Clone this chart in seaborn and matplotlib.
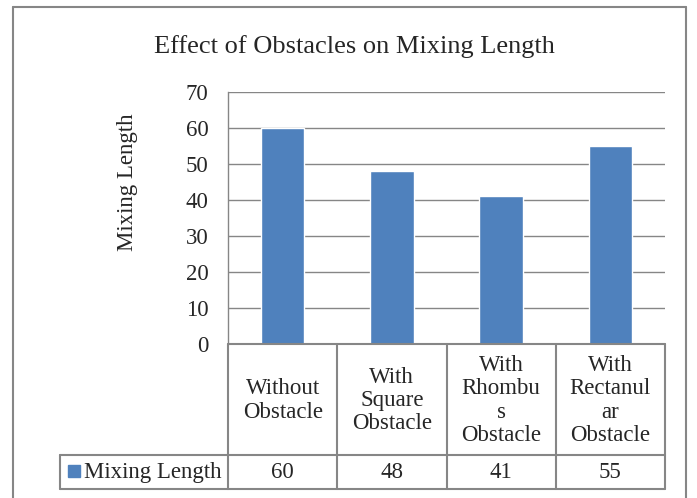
import numpy as np
import pandas as pd
import matplotlib
matplotlib.use("Agg")
import matplotlib.pyplot as plt
import matplotlib.transforms as mtransforms
from matplotlib.lines import Line2D
from matplotlib.patches import Rectangle
import seaborn as sns

# data
categories = ["Without\nObstacle", "With\nSquare\nObstacle", "With\nRhombu\ns\nObstacle", "With\nRectanul\nar\nObstacle"]
mixing_length = [60, 48, 41, 55]
series_name = "Mixing Length"
y_ticks = [0, 10, 20, 30, 40, 50, 60, 70]

df = pd.DataFrame({"category": categories, "value": mixing_length})

sns.set_style("white")
plt.rcParams["font.family"] = ["Liberation Serif", "DejaVu Serif"]

bar_color = "#4F81BD"
grid_color = "#868686"
W, H = 697, 498
fs = 16.5

fig = plt.figure(figsize=(W / 100, H / 100), dpi=100)

def fx(px):
    return px / W

def fy(py):
    return 1 - py / H

# plot area in pixel positions
left, right, top, bottom = 228, 665, 92, 344
ax = fig.add_axes([fx(left), fy(bottom), fx(right - left), (bottom - top) / H])

sns.barplot(data=df, x="category", y="value", color=bar_color, width=0.4,
            saturation=1, ax=ax)
ax.set_xlim(-0.5, len(categories) - 0.5)
ax.set_ylim(0, 70)
ax.set_yticks(y_ticks)
ax.tick_params(axis="y", length=0, labelsize=fs, pad=14)
ax.set_xticks([])
ax.set_xlabel("")
ax.set_ylabel("")
ax.yaxis.grid(True, color=grid_color, linewidth=1)
ax.set_axisbelow(True)
for side in ["top", "right", "bottom"]:
    ax.spines[side].set_visible(False)
ax.spines["left"].set_color(grid_color)
ax.spines["left"].set_linewidth(1)

# axis title and chart title
fig.text(fx(127), fy(182), series_name, rotation=90, ha="center", va="center",
         fontsize=fs)
fig.text(fx(354), fy(47), "Effect of Obstacles on Mixing Length", ha="center",
         va="center", fontsize=19)

# data table below the plot area
trans = mtransforms.blended_transform_factory(ax.transData, fig.transFigure)
row1_bottom, row2_bottom = 455, 489
legend_left = 60
lw = 1.5
bounds = np.arange(len(categories) + 1) - 0.5
for b in bounds:
    fig.add_artist(Line2D([b, b], [fy(bottom), fy(row2_bottom)], transform=trans,
                          color=grid_color, lw=lw))
for yy in [bottom, row1_bottom, row2_bottom]:
    fig.add_artist(Line2D([bounds[0], bounds[-1]], [fy(yy), fy(yy)], transform=trans,
                          color=grid_color, lw=lw))
# legend cell
fig.add_artist(Line2D([fx(legend_left), fx(left)], [fy(row1_bottom)] * 2,
                      transform=fig.transFigure, color=grid_color, lw=lw))
fig.add_artist(Line2D([fx(legend_left), fx(left)], [fy(row2_bottom)] * 2,
                      transform=fig.transFigure, color=grid_color, lw=lw))
fig.add_artist(Line2D([fx(legend_left)] * 2, [fy(row1_bottom), fy(row2_bottom)],
                      transform=fig.transFigure, color=grid_color, lw=lw))
fig.add_artist(Rectangle((fx(68), fy(477)), fx(12), 12 / H, transform=fig.transFigure,
                         color=bar_color))
fig.text(fx(84), fy(472), series_name, ha="left", va="center", fontsize=fs)

mid1 = (bottom + row1_bottom) / 2 + 1
mid2 = (row1_bottom + row2_bottom) / 2
for i, (cat, val) in enumerate(zip(categories, mixing_length)):
    fig.text(i, fy(mid1), cat, transform=trans, ha="center", va="center",
             fontsize=fs, linespacing=1.15)
    fig.text(i, fy(mid2), str(val), transform=trans, ha="center", va="center",
             fontsize=fs)

# outer chart border (bottom edge cut off)
for xs, ys in [([fx(13), fx(13)], [0, fy(7)]),
               ([fx(13), fx(686)], [fy(7), fy(7)]),
               ([fx(686), fx(686)], [fy(7), 0])]:
    fig.add_artist(Line2D(xs, ys, transform=fig.transFigure, color=grid_color, lw=1.5))

fig.savefig("out.png", dpi=100)
